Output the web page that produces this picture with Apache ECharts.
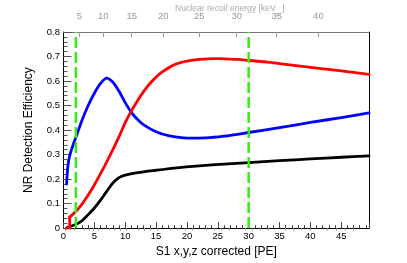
<!DOCTYPE html>
<html><head><meta charset="utf-8">
<script src="https://cdn.jsdelivr.net/npm/echarts@6/dist/echarts.min.js"></script>
<style>html,body{margin:0;padding:0;background:#fff}#c{width:407px;height:263px}</style>
</head><body><div id="c"></div>
<script>
// ---- data ----
const blackX = [0.5, 1, 2, 3, 4, 5, 6, 7, 8, 9, 10, 12, 15, 18, 22, 26, 30, 35, 40, 45, 49.5];
const blackY = [0.0, 0.006, 0.015, 0.03, 0.055, 0.082, 0.114, 0.15, 0.184, 0.206, 0.216, 0.226, 0.236, 0.245, 0.254, 0.261, 0.267, 0.275, 0.282, 0.289, 0.295];

// red: flat at zero, a step at S1 = 1, then a smooth rise
const redStepX = [0.5, 1.0, 1.0];
const redStepY = [0, 0, 0.045];
const redX = [1.0, 2, 3, 4, 5, 6, 7, 8, 9, 10, 11, 12, 13, 14, 15, 16, 18, 20, 22, 25, 28, 30, 33, 36, 40, 45, 49.5];
const redY = [0.045, 0.068, 0.098, 0.135, 0.176, 0.222, 0.27, 0.32, 0.373, 0.43, 0.478, 0.52, 0.558, 0.59, 0.616, 0.637, 0.667, 0.681, 0.688, 0.691, 0.688, 0.684, 0.677, 0.668, 0.656, 0.641, 0.627];

const blueX = [0.5, 0.7, 1.0, 1.5, 2, 3, 4, 5, 6, 7, 8, 9, 10, 11, 12, 13, 15, 17, 20, 23, 26, 30, 35, 40, 45, 49.5];
const blueY = [0.18, 0.25, 0.295, 0.335, 0.37, 0.44, 0.5, 0.55, 0.59, 0.612, 0.595, 0.558, 0.512, 0.472, 0.443, 0.421, 0.393, 0.377, 0.367, 0.368, 0.375, 0.39, 0.41, 0.431, 0.451, 0.47];

const cutX = [2, 30];

// top axis: nuclear recoil energy labels and their S1 positions
const keVLabels = [5, 10, 15, 20, 25, 30, 35, 40];
const keVAtS1 = [2.56, 6.45, 11.05, 16.17, 22.0, 28.07, 34.55, 41.3];
const keVMinorAtS1 = [0.24, 1.02, 1.8, 3.34, 4.11, 4.89, 5.67, 7.37, 8.29, 9.21, 10.13,
  12.07, 13.10, 14.12, 15.15, 17.34, 18.50, 19.67, 20.83, 23.21, 24.43, 25.64, 26.86,
  29.37, 30.66, 31.96, 33.25, 35.9, 37.25, 38.6, 39.95, 42.7, 44.15, 45.6, 47.0];

const yTicks = [0, 0.1, 0.2, 0.3, 0.4, 0.5, 0.6, 0.7, 0.8];

// ---- chart ----
const FONT = '"Liberation Sans", Arial, Helvetica, sans-serif';
const zip = (xs, ys) => xs.map((x, i) => [x, ys[i]]);
const chart = echarts.init(document.getElementById('c'), null, {renderer: 'canvas'});

const cutSeries = cutX.map(x => ({
  type: 'line', xAxisIndex: 0, yAxisIndex: 0,
  data: [[x, yTicks[0]], [x, yTicks[yTicks.length - 1]]],
  symbol: 'none', silent: true, z: 5,
  lineStyle: {color: '#33ee11', width: 2.5, type: [11, 4]}
}));

const curve = (xs, ys, color, smooth) => ({
  type: 'line', xAxisIndex: 0, yAxisIndex: 0,
  data: zip(xs, ys), symbol: 'none', smooth: smooth,
  lineStyle: {color: color, width: 2.8, cap: 'round', join: 'round'}, z: 3
});

// top title with subscript
const TF = 8.6, SF = 6;
const mctx = document.createElement('canvas').getContext('2d');
mctx.font = TF + 'px ' + FONT;
const titleMain = 'Nuclear recoil energy [keV';
const wMain = mctx.measureText(titleMain).width;
mctx.font = SF + 'px ' + FONT;
const wSub = mctx.measureText('nr').width;
const tx = 175, ty = 4;

chart.setOption({
  animation: false,
  textStyle: {fontFamily: FONT},
  graphic: [
    {type: 'text', left: tx, top: ty, style: {text: titleMain, font: TF + 'px ' + FONT, fill: '#aaaaaa'}},
    {type: 'text', left: tx + wMain + 0.5, top: ty + 7.5, style: {text: 'nr', font: SF + 'px ' + FONT, fill: '#aaaaaa'}},
    {type: 'text', left: tx + wMain + wSub + 1, top: ty, style: {text: ']', font: TF + 'px ' + FONT, fill: '#aaaaaa'}}
  ],
  grid: {left: 63.5, right: 38, top: 32, bottom: 34, containLabel: false},
  xAxis: [
    {
      type: 'value', position: 'bottom', min: 0, max: 49.5, interval: 5,
      axisLine: {show: true, onZero: false, lineStyle: {color: '#000', width: 1}},
      axisTick: {show: true, inside: true, length: 6, lineStyle: {color: '#444'}},
      minorTick: {show: true, splitNumber: 5, length: 3, lineStyle: {color: '#444'}},
      axisLabel: {margin: 3, fontSize: 9.5, color: '#000', fontFamily: FONT, showMaxLabel: false},
      splitLine: {show: false},
      name: 'S1 x,y,z corrected [PE]', nameLocation: 'middle', nameGap: 16,
      nameTextStyle: {fontSize: 12, color: '#000', fontFamily: FONT}
    },
    {
      type: 'value', position: 'top', min: 0, max: 49.5,
      axisLine: {show: true, onZero: false, lineStyle: {color: '#777', width: 1}},
      axisTick: {show: true, inside: true, length: 5, customValues: keVAtS1, lineStyle: {color: '#999'}},
      axisLabel: {
        show: true, margin: 11, fontSize: 9.5, color: '#999', fontFamily: FONT,
        customValues: keVAtS1,
        formatter: v => {
          let best = 0;
          keVAtS1.forEach((p, i) => { if (Math.abs(p - v) < Math.abs(keVAtS1[best] - v)) best = i; });
          return String(keVLabels[best]);
        }
      },
      splitLine: {show: false}
    },
    {
      type: 'value', position: 'top', min: 0, max: 49.5,
      axisLine: {show: false},
      axisTick: {show: true, inside: true, length: 2.5, customValues: keVMinorAtS1, lineStyle: {color: '#999'}},
      axisLabel: {show: false},
      splitLine: {show: false}
    }
  ],
  yAxis: [
    {
      type: 'value', min: 0, max: 0.8, interval: 0.1,
      axisLine: {show: true, onZero: false, lineStyle: {color: '#000', width: 1}},
      axisTick: {show: true, inside: true, length: 8, lineStyle: {color: '#555'}},
      minorTick: {show: true, splitNumber: 5, length: 4, lineStyle: {color: '#555'}},
      axisLabel: {margin: 3.5, fontSize: 9.5, color: '#000', fontFamily: FONT},
      splitLine: {show: false},
      name: 'NR Detection Efficiency', nameLocation: 'middle', nameGap: 29,
      nameTextStyle: {fontSize: 12, color: '#000', fontFamily: FONT}
    },
    {
      type: 'value', position: 'right', min: 0, max: 0.8,
      axisLine: {show: true, onZero: false, lineStyle: {color: '#000', width: 1}},
      axisTick: {show: false}, axisLabel: {show: false}, splitLine: {show: false}
    }
  ],
  series: [
    curve(blackX, blackY, '#000000', 0.3),
    curve(blueX, blueY, '#0000ff', 0.3),
    curve(redStepX, redStepY, '#ff0000', false),
    curve(redX, redY, '#ff0000', 0.3),
    ...cutSeries
  ]
});
</script>
</body></html>
